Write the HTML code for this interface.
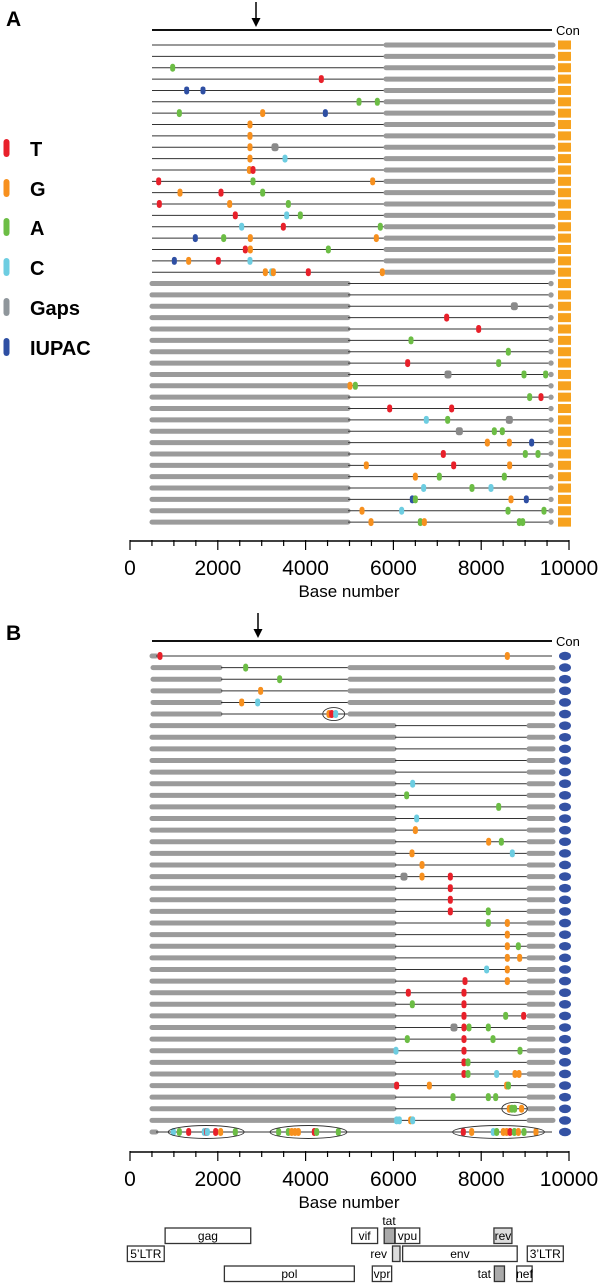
<!DOCTYPE html>
<html><head><meta charset="utf-8"><style>
html,body{margin:0;padding:0;background:#fff;}
svg{display:block;font-family:"Liberation Sans",Arial,sans-serif;}
</style></head><body>
<svg id="fig" width="600" height="1285" viewBox="0 0 600 1285" xmlns="http://www.w3.org/2000/svg">
<text x="6" y="26" font-size="21" font-weight="bold">A</text>
<text x="6" y="640" font-size="21" font-weight="bold">B</text>
<g font-weight="bold" font-size="20">
<g><rect x="3.5" y="139" width="6" height="18" rx="3" fill="#e8202a"/><text x="30" y="156">T</text></g>
<g><rect x="3.5" y="179" width="6" height="18" rx="3" fill="#f7901e"/><text x="30" y="196">G</text></g>
<g><rect x="3.5" y="218" width="6" height="18" rx="3" fill="#6cbd45"/><text x="30" y="235">A</text></g>
<g><rect x="3.5" y="258" width="6" height="18" rx="3" fill="#6dcde1"/><text x="30" y="275">C</text></g>
<g><rect x="3.5" y="298" width="6" height="18" rx="3" fill="#8f969b"/><text x="30" y="315">Gaps</text></g>
<g><rect x="3.5" y="338" width="6" height="18" rx="3" fill="#2e4fa3"/><text x="30" y="355">IUPAC</text></g>
</g>
</svg>
<script>
const typeColors = {T:'#e8202a',G:'#f7901e',A:'#6cbd45',C:'#6dcde1',N:'#8a8a8a',I:'#2e4fa3'};
const axisTicks = [0,2000,4000,6000,8000,10000];
// Panel A mutations: [row, base, type]
const mutationsA1 = [
[2,972,'A'],[3,4358,'T'],[4,1291,'I'],[4,1663,'I'],[5,5216,'A'],[5,5634,'A'],
[6,1124,'A'],[6,3022,'G'],[6,4450,'I'],[7,2733,'G'],[8,2733,'G'],[9,2733,'G'],[9,3303,'N'],
[10,2733,'G'],[10,3531,'C'],[11,2720,'G'],[11,2802,'T'],[12,653,'T'],[12,2802,'A'],[12,5528,'G'],
[13,1139,'G'],[13,2073,'T'],[13,3022,'A'],[14,668,'T'],[14,2270,'G'],[14,3607,'A'],
[15,2399,'T'],[15,3569,'C'],[15,3880,'A'],[16,2544,'C'],[16,3493,'T'],[16,5702,'A'],
[17,1488,'I'],[17,2134,'A'],[17,2741,'G'],[17,5611,'G'],[18,2627,'T'],[18,2741,'G'],[18,4518,'A'],
[19,1010,'I'],[19,1336,'G'],[19,2012,'T'],[19,2733,'C'],
[20,3083,'G'],[20,3227,'C'],[20,3265,'G'],[20,4062,'T'],[20,5748,'G']];
const mutationsA2 = [
[2,8755,'N'],[3,7213,'T'],[4,7942,'T'],[5,6401,'A'],[6,8618,'A'],[7,6325,'T'],[7,8398,'A'],
[8,7244,'N'],[8,8975,'A'],[8,9468,'A'],[9,5011,'G'],[9,5133,'A'],[10,9104,'A'],[10,9362,'T'],
[11,5915,'T'],[11,7327,'T'],[12,6750,'C'],[12,7236,'A'],[12,8641,'N'],
[13,7502,'N'],[13,8299,'A'],[13,8481,'A'],[14,8140,'G'],[14,8641,'G'],[14,9149,'I'],
[15,7137,'T'],[15,9005,'A'],[15,9294,'A'],[16,5383,'G'],[16,7373,'T'],[16,8648,'G'],
[17,6500,'G'],[17,7046,'A'],[17,8527,'A'],[18,6689,'C'],[18,7790,'A'],[18,8223,'C'],
[19,6431,'I'],[19,6500,'A'],[19,8679,'G'],[19,9028,'I'],
[20,5285,'G'],[20,6188,'C'],[20,8611,'A'],[20,9430,'A'],
[21,5490,'G'],[21,6614,'A'],[21,6705,'G'],[21,8869,'A'],[21,8945,'A']];
const mutationsB = [
[0,683,'T'],[0,8595,'G'],[1,2635,'A'],[2,3409,'A'],[3,2976,'G'],[4,2544,'G'],[4,2908,'C'],
[5,4533,'G'],[5,4594,'T'],[5,4685,'C'],[11,6439,'C'],[12,6302,'A'],[13,8398,'A'],[14,6530,'C'],
[15,6500,'G'],[16,8170,'G'],[16,8459,'A'],[17,6424,'G'],[17,8709,'C'],[18,6652,'G'],
[19,6241,'N'],[19,6652,'G'],[19,7297,'T'],[20,7297,'T'],[21,7297,'T'],[22,7297,'T'],[22,8162,'A'],
[23,8162,'A'],[23,8595,'G'],[24,8595,'G'],[25,8595,'G'],[25,8846,'A'],[26,8595,'G'],[26,8876,'G'],
[27,8124,'C'],[27,8595,'G'],[28,7631,'T'],[28,8595,'G'],[29,6340,'T'],[29,7608,'T'],
[30,6431,'A'],[30,7608,'T'],[31,7608,'T'],[31,8557,'A'],[31,8967,'T'],
[32,7380,'N'],[32,7608,'T'],[32,7722,'A'],[32,8162,'A'],[33,6317,'A'],[33,7608,'T'],[33,8269,'A'],
[34,6059,'C'],[34,7608,'T'],[34,8884,'A'],[35,7608,'T'],[35,7699,'A'],
[36,7608,'T'],[36,7699,'A'],[36,8352,'C'],[36,8770,'G'],[36,8861,'G'],
[37,6074,'T'],[37,6819,'G'],[37,8580,'G'],[37,8620,'A'],[38,7358,'A'],[38,8162,'A'],[38,8330,'A'],
[39,8640,'G'],[39,8700,'A'],[39,8760,'A'],[39,8920,'G'],
[40,6074,'C'],[40,6135,'C'],[40,6393,'G'],[40,6439,'C'],
[41,987,'C'],[41,1124,'A'],[41,1336,'T'],[41,1693,'C'],[41,1746,'T'],[41,1762,'C'],[41,1951,'T'],[41,2065,'G'],[41,2399,'A'],
[41,3386,'A'],[41,3607,'A'],[41,3683,'G'],[41,3759,'G'],[41,3835,'G'],[41,4199,'T'],[41,4252,'A'],[41,4746,'A'],
[41,7593,'T'],[41,7783,'G'],[41,8276,'C'],[41,8352,'A'],[41,8504,'G'],[41,8580,'G'],[41,8656,'T'],[41,8755,'A'],[41,8846,'G'],[41,8975,'A'],[41,9248,'G']];
// Circled clusters in panel B: [row, startBase, endBase]
const ellipsesB = [[5,4390,4890],[39,8470,9050],[41,870,2600],[41,3190,4940],[41,7350,9440]];
// Genome map: [name, startBase, endBase, lane, fill]
const genes = [['gag',800,2750,0,'#fff'],['5\u2019LTR',-60,780,1,'#fff'],['pol',2150,5110,2,'#fff'],
['vif',5050,5640,0,'#fff'],['',5790,6030,0,'#aaa'],['vpu',6040,6600,0,'#fff'],['',5980,6150,1,'#ddd'],
['env',6210,8820,1,'#fff'],['vpr',5520,5960,2,'#fff'],['rev',8290,8700,0,'#ddd'],['3\u2019LTR',9050,9870,1,'#fff'],
['',8300,8530,2,'#aaa'],['nef',8810,9160,2,'#fff']];

const NS='http://www.w3.org/2000/svg';
const svg=document.getElementById('fig');
const X0=130, X1=569;
function xs(b){return X0+(X1-X0)*b/10000;}
function el(tag,attrs,parent){const e=document.createElementNS(NS,tag);for(const k in attrs)e.setAttribute(k,attrs[k]);(parent||svg).appendChild(e);return e;}
function grayBar(x1,x2,y,p){el('line',{x1:x1+2,x2:x2-2,y1:y,y2:y,stroke:'#9b9b9b','stroke-width':5,'stroke-linecap':'round'},p);}
function thin(x1,x2,y,p){el('line',{x1:x1,x2:x2,y1:y,y2:y,stroke:'#333','stroke-width':1},p);}
function mark(m,y0,dy,p,w){
  const e=el('rect',{x:xs(m[1])-2.5,y:y0+m[0]*dy-4,width:5,height:8,rx:2.5,fill:typeColors[m[2]]},p);
  
  
  if(m[2]==='N'&&w){e.setAttribute('width',7);e.setAttribute('x',xs(m[1])-3.5);}
}
function axis(y,name){
  const g=el('g',{});
  
  
  el('line',{x1:X0,x2:X1,y1:y,y2:y,stroke:'#000','stroke-width':1.5},g);
  for(let b=0;b<=10000;b+=500){const major=b%2000===0;el('line',{x1:xs(b),x2:xs(b),y1:y-1,y2:y+(major?9:5),stroke:'#000','stroke-width':1.2},g);}
  axisTicks.forEach(t=>{const tx=el('text',{x:xs(t),y:y+34,'font-size':21,'text-anchor':'middle'},g);tx.textContent=t;
    
    });
  const tl=el('text',{x:349,y:y+56,'font-size':17,'text-anchor':'middle'},g);tl.textContent='Base number';
  
  
}
function header(y,ax,name){
  const g=el('g',{});
  
  
  el('line',{x1:152,x2:552,y1:y,y2:y,stroke:'#111','stroke-width':2},g);
  el('line',{x1:ax,x2:ax,y1:y-28,y2:y-6,stroke:'#000','stroke-width':1.5},g);
  el('path',{d:`M${ax-4.5},${y-12} L${ax+4.5},${y-12} L${ax},${y-3} Z`,fill:'#000'},g);
  const t=el('text',{x:556,y:y+5,'font-size':13},g);t.textContent='Con';
}
// Panel A
header(30,256,'panel-a-consensus');
const gA=el('g',{});


const yA=45, dA=11.36;
for(let r=0;r<43;r++){
  const y=yA+r*dA;
  if(r<21){thin(152,384,y,gA);grayBar(384,555,y,gA);}
  else{grayBar(150,350,y,gA);thin(348,551,y,gA);el('circle',{cx:551,cy:y,r:2.7,fill:'#9b9b9b'},gA);}
  el('rect',{x:558,y:y-4.5,width:13,height:9,fill:'#f7a21e'},gA);
}
mutationsA1.forEach(m=>mark(m,yA,dA,gA,true));
mutationsA2.forEach(m=>mark(m,yA+21*dA,dA,gA,true));
axis(541,'panel-a-x-axis');
// Panel B
header(641,258,'panel-b-consensus');
const gB=el('g',{});


const yB=656, dB=11.61;
for(let r=0;r<42;r++){
  const y=yB+r*dB;
  if(r===0||r===41){grayBar(150,158,y,gB);thin(156,552,y,gB);}
  else if(r<=5){grayBar(151,222,y,gB);thin(221,348,y,gB);grayBar(348,555,y,gB);}
  else{grayBar(150,396,y,gB);thin(395,527,y,gB);grayBar(527,555,y,gB);}
  el('ellipse',{cx:565,cy:y,rx:6,ry:4.3,fill:'#3452a4'},gB);
}
mutationsB.forEach(m=>mark(m,yB,dB,gB,true));
ellipsesB.forEach(e=>{const x1=xs(e[1]),x2=xs(e[2]);const c=el('ellipse',{cx:(x1+x2)/2,cy:yB+e[0]*dB,rx:(x2-x1)/2,ry:6.5,fill:'none',stroke:'#333','stroke-width':0.9},gB);
  
  });
axis(1152,'panel-b-x-axis');
// Genome map
const gm=el('g',{});


const laneY=[1228,1246,1266];
genes.forEach(g=>{
  const x1=xs(g[1]),x2=xs(g[2]),y=laneY[g[3]];
  const r=el('rect',{x:x1,y:y,width:x2-x1,height:15.5,fill:g[4],stroke:'#333','stroke-width':1.3},gm);
  
  
  if(g[0]){const t=el('text',{x:(x1+x2)/2,y:y+12,'font-size':12,'text-anchor':'middle'},gm);t.textContent=g[0];}
});
[['tat',389,1225,'middle'],['rev',387,1258,'end'],['tat',491,1278,'end']].forEach(l=>{
  const t=el('text',{x:l[1],y:l[2],'font-size':12,'text-anchor':l[3]},gm);t.textContent=l[0];
  
  
});
</script>
</body></html>
